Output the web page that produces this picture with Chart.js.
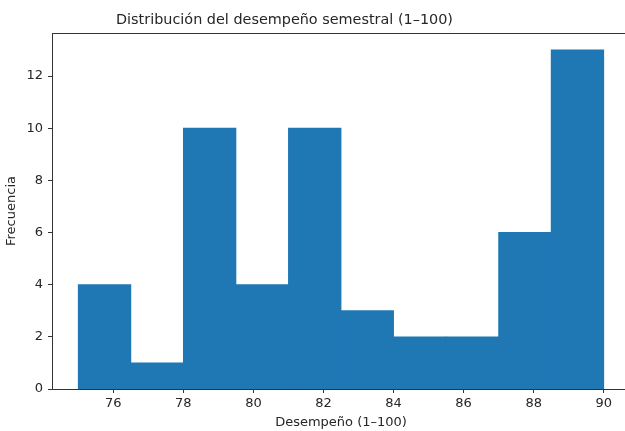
<!DOCTYPE html>
<html>
<head>
<meta charset="utf-8">
<script src="https://cdn.jsdelivr.net/npm/chart.js@4"></script>
<style>
  html, body { margin: 0; padding: 0; background: #ffffff; overflow: hidden; }
  #wrap { width: 630px; height: 431px; }
</style>
</head>
<body>
<div id="wrap"><canvas id="c" width="630" height="431"></canvas></div>
<script>
// Histogram of semester performance scores
const chartTitle = 'Distribución del desempeño semestral (1–100)';
const xLabel = 'Desempeño (1–100)';
const yLabel = 'Frecuencia';
const binEdges = [75, 76.5, 78, 79.5, 81, 82.5, 84, 85.5, 87, 88.5, 90];
const counts = [4, 1, 10, 4, 10, 3, 2, 2, 6, 13];
const xTicks = [76, 78, 80, 82, 84, 86, 88, 90];
const yTicks = [0, 2, 4, 6, 8, 10, 12];

const FONT = 'DejaVu Sans';
const INK = '#262626';

const points = counts.map((c, i) => ({ x: (binEdges[i] + binEdges[i + 1]) / 2, y: c }));
const xSpan = binEdges[binEdges.length - 1] - binEdges[0];
const xMin = binEdges[0] - 0.05 * xSpan;
const xMax = binEdges[binEdges.length - 1] + 0.05 * xSpan;
const yMax = Math.max(...counts) * 1.05;

// axes frame and title
const framePlugin = {
  id: 'frame',
  afterDatasetsDraw(chart) {
    const { ctx, chartArea: a } = chart;
    ctx.save();
    ctx.strokeStyle = '#333333';
    ctx.lineWidth = 1;
    ctx.strokeRect(Math.round(a.left) + 0.5, Math.round(a.top) + 0.5,
      Math.round(a.right - a.left), Math.round(a.bottom - a.top));
    ctx.restore();
  },
  afterDraw(chart) {
    const ctx = chart.ctx;
    ctx.save();
    ctx.fillStyle = INK;
    ctx.font = '14.4px "' + FONT + '"';
    ctx.textAlign = 'center';
    ctx.textBaseline = 'middle';
    ctx.fillText(chartTitle, 284.5, 20);
    ctx.restore();
  }
};

new Chart(document.getElementById('c'), {
  type: 'bar',
  data: {
    datasets: [{
      data: points,
      backgroundColor: '#1f77b4',
      borderWidth: 0,
      inflateAmount: 0.4,
      barPercentage: 1.0,
      categoryPercentage: 1.0,
      grouped: false
    }]
  },
  options: {
    responsive: false,
    animation: false,
    events: [],
    layout: { padding: { top: 33, left: 0, right: 0, bottom: 0 } },
    plugins: { legend: { display: false }, tooltip: { enabled: false }, title: { display: false } },
    scales: {
      x: {
        type: 'linear',
        min: xMin,
        max: xMax,
        offset: false,
        afterBuildTicks(scale) { scale.ticks = xTicks.map(v => ({ value: v })); },
        afterFit(scale) { scale.height = 42; },
        grid: { display: true, offset: false, drawOnChartArea: false, drawTicks: true, tickLength: 4, color: '#333333' },
        border: { display: false },
        ticks: { color: INK, font: { family: FONT, size: 13 }, padding: 3, maxRotation: 0, autoSkip: false },
        title: { display: true, text: xLabel, color: INK, font: { family: FONT, size: 13 }, padding: { top: 0, bottom: 1 } }
      },
      y: {
        type: 'linear',
        min: 0,
        max: yMax,
        afterBuildTicks(scale) { scale.ticks = yTicks.map(v => ({ value: v })); },
        afterFit(scale) { scale.width = 52; },
        grid: { display: true, drawOnChartArea: false, drawTicks: true, tickLength: 4, color: '#333333' },
        border: { display: false },
        ticks: { color: INK, font: { family: FONT, size: 13 }, padding: 5 },
        title: { display: true, text: yLabel, color: INK, font: { family: FONT, size: 13 }, padding: { top: 4, bottom: 0 } }
      }
    }
  },
  plugins: [framePlugin]
});
</script>
</body>
</html>
